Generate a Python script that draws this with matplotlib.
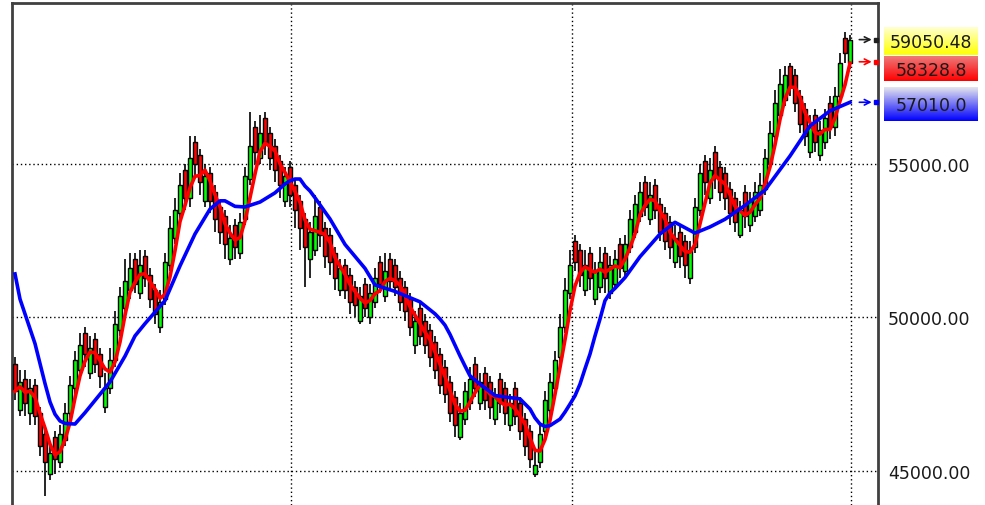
import numpy as np
import pandas as pd
import matplotlib
matplotlib.use('Agg')
import matplotlib.pyplot as plt
from matplotlib.colors import LinearSegmentedColormap

# daily candles
opens = [48500, 47000, 48000, 46900, 47800, 46900, 46200, 44900, 46100, 45300,
         46000, 46900, 47700, 48300, 49500, 48200, 49300, 48800, 47100, 47700,
         48600, 49600, 50300, 50900, 51900, 50800, 52000, 51400, 50900, 49700,
         50600, 51700, 52600, 53400, 54800, 53900, 55700, 55300, 53800, 54700,
         54100, 53600, 53300, 51900, 53000, 52100, 53200, 54500, 56200, 55200,
         56500, 56000, 55600, 55100, 53800, 54900, 54300, 53800, 53200, 51900,
         52200, 53600, 52900, 52700, 52100, 50900, 51700, 51400, 51000, 49900,
         51100, 50000, 50500, 51800, 50700, 51900, 51700, 51300, 51000, 50600,
         49100, 50300, 49900, 49600, 49200, 48800, 48400, 47900, 47400, 46100,
         46700, 47200, 48500, 47200, 48200, 47900, 46700, 48000, 47700, 46500,
         47700, 47200, 46700, 46300, 44900, 45300, 46300, 47000, 47700, 48700,
         49700, 50800, 52500, 52200, 50900, 52100, 50600, 51000, 52100, 50800,
         51100, 52400, 51500, 52300, 52800, 53300, 54400, 53200, 54300, 53700,
         53400, 53100, 51800, 52800, 52500, 51300, 52300, 53500, 55100, 53900,
         55400, 54900, 54700, 54200, 53900, 52700, 54100, 53000, 53300, 53500,
         54200, 55000, 55900, 56600, 57100, 58200, 57900, 57200, 56800, 55400,
         56600, 55300, 55700, 57000, 56200, 57200, 59100, 58300]
highs = [48700, 48300, 48300, 48000, 48000, 47100, 46400, 45900, 46300, 46500,
         47200, 48100, 48900, 49500, 49700, 49400, 49500, 49000, 48200, 49000,
         50200, 51000, 51900, 52100, 52100, 52200, 52200, 51600, 51100, 50900,
         52100, 53300, 53900, 54700, 55000, 55900, 55900, 55500, 55000, 54900,
         54300, 53800, 53500, 53000, 53200, 53400, 54900, 56700, 56400, 56600,
         56700, 56200, 55800, 55300, 54900, 55100, 54500, 54000, 53400, 53100,
         54000, 53800, 53100, 52900, 52300, 51900, 51900, 51600, 51200, 51000,
         51300, 51100, 51600, 52000, 52100, 52100, 51900, 51500, 51200, 50800,
         50200, 50500, 50100, 49800, 49400, 49000, 48600, 48100, 47600, 47200,
         47900, 48400, 48700, 48200, 48400, 48100, 47700, 48200, 47900, 47500,
         47900, 47400, 46900, 46500, 45700, 46500, 47600, 48200, 48900, 50100,
         51300, 52200, 52700, 52400, 52200, 52300, 51800, 52300, 52300, 52000,
         52200, 52600, 52700, 53500, 54000, 54400, 54600, 54400, 54500, 53900,
         53600, 53300, 53000, 53000, 52700, 52500, 53900, 55000, 55300, 55200,
         55600, 55100, 54900, 54400, 54100, 53800, 54300, 54100, 54400, 54700,
         55500, 56400, 57400, 58100, 58200, 58300, 58100, 57400, 57000, 56600,
         56800, 56400, 56800, 57200, 57500, 58600, 59300, 59200]
lows = [47300, 46800, 46800, 46500, 46500, 45500, 44200, 44700, 44900, 45100,
        45800, 46600, 47400, 48000, 48400, 48000, 48200, 47700, 46900, 47500,
        48400, 49400, 50100, 50600, 50800, 50600, 51000, 50300, 49800, 49500,
        50400, 51500, 52400, 53100, 53500, 53600, 54600, 54000, 53600, 53400,
        52800, 52400, 51900, 51700, 51900, 51900, 53000, 54300, 55000, 55000,
        55300, 54800, 54400, 53900, 53600, 53600, 52900, 52200, 51000, 51300,
        52000, 52300, 51600, 51400, 50900, 50700, 50600, 50100, 50000, 49800,
        50000, 49800, 50300, 50800, 50500, 50900, 50700, 50200, 49900, 49400,
        48800, 49100, 48800, 48400, 48000, 47500, 47200, 46600, 46100, 46000,
        46500, 47000, 47400, 47000, 47000, 46700, 46500, 46900, 46500, 46300,
        46500, 46000, 45500, 45100, 44800, 45100, 46100, 46800, 47500, 48500,
        49500, 50600, 51500, 51000, 50700, 50900, 50400, 50800, 50800, 50600,
        50900, 51300, 51300, 52100, 52600, 53100, 53300, 53000, 53200, 52500,
        52200, 51900, 51600, 51600, 51300, 51100, 52100, 53300, 54000, 53700,
        54200, 53800, 53500, 53000, 52800, 52600, 52900, 52800, 53100, 53300,
        54000, 54800, 55700, 56400, 56900, 57200, 56700, 56000, 55600, 55200,
        55400, 55100, 55500, 55800, 55900, 57000, 58300, 58100]
closes = [47600, 47900, 47200, 47700, 46800, 45800, 45300, 45600, 45400, 46200,
          46900, 47800, 48600, 49100, 48800, 49000, 48500, 48100, 47700, 48600,
          49800, 50700, 51200, 51600, 51100, 51700, 51300, 50600, 50100, 50500,
          51800, 52900, 53500, 54300, 53900, 55200, 55000, 54400, 54600, 53800,
          53200, 52800, 52400, 52600, 52300, 53100, 54600, 55600, 55400, 56000,
          55700, 55200, 54800, 54300, 54600, 54000, 53500, 52900, 52300, 52800,
          53300, 52700, 52000, 51800, 51300, 51600, 50900, 50500, 50400, 50700,
          50300, 50800, 51300, 51100, 51500, 51200, 51000, 50500, 50200, 49700,
          49900, 49400, 49100, 48700, 48300, 47800, 47500, 46900, 46500, 46900,
          47600, 48000, 47700, 47900, 47300, 47100, 47400, 47200, 46900, 47200,
          46800, 46300, 45800, 45400, 45200, 46200, 47300, 47900, 48600, 49700,
          50900, 51700, 51800, 51400, 51700, 51300, 51500, 51800, 51300, 51700,
          51900, 51600, 52400, 53200, 53700, 54100, 53600, 54000, 53500, 52800,
          52500, 52300, 52600, 52000, 51700, 52200, 53600, 54700, 54400, 54800,
          54600, 54100, 53900, 53400, 53100, 53500, 53300, 53800, 54100, 54300,
          55200, 56000, 57000, 57600, 57900, 57500, 57000, 56300, 55900, 56200,
          55700, 56100, 56500, 56200, 57200, 58300, 58600, 59050.48]

# long moving average (blue), read at some candle indices
blue_idx = [0, 1, 4, 5, 6, 7, 8, 9, 10, 12, 14, 16, 19, 22, 24, 26, 30, 33, 36, 39,
            41, 42, 44, 46, 49, 52, 54, 55, 56, 57, 58, 59, 60, 63, 66, 70, 72, 76, 81, 84,
            85, 86, 87, 88, 89, 90, 91, 93, 96, 98, 101, 103, 104, 105, 106, 107, 109, 110, 111, 112,
            113, 114, 115, 116, 117, 118, 119, 120, 122, 125, 129, 132, 136, 139, 142, 146, 150, 155, 159, 163,
            167]
blue_vals = [51420, 50600, 49150, 48500, 47850, 47250, 46850, 46630, 46550, 46530,
             46900, 47300, 47900, 48740, 49400, 49800, 50550, 51680, 52720, 53530,
             53800, 53800, 53620, 53600, 53760, 54060, 54350, 54450, 54510, 54510,
             54280, 54120, 53900, 53210, 52380, 51600, 51060, 50850, 50510, 50120,
             49950, 49750, 49450, 49100, 48750, 48420, 48100, 47830, 47460, 47410,
             47350, 47020, 46730, 46530, 46450, 46480, 46690, 46920, 47180, 47450,
             47830, 48330, 48810, 49400, 49950, 50550, 50800, 50950, 51300, 51980,
             52720, 53100, 52750, 52950, 53200, 53650, 54150, 55260, 56240, 56730,
             57010]

price_ticks = [45000, 50000, 55000]
grid_marks = [55.2, 111.4, 167.2]
last_labels = ['59050.48', '58328.8', '57010.0']
last_values = [59050.48, 58328.8, 57010.0]

W, H = 985, 506
fig = plt.figure(figsize=(W / 100, H / 100), dpi=100)
ax = fig.add_axes([12 / W, 0, 866 / W, 502 / H])

o = np.array(opens, float)
h = np.array(highs, float)
l = np.array(lows, float)
c = np.array(closes, float)
idx = np.arange(len(c))
col = np.where(c >= o, '#00FF00', '#FF0000')

ax.vlines(idx, l, h, color='black', lw=1.2, zorder=2)
ax.bar(idx, np.maximum(np.abs(c - o), 40), bottom=np.minimum(o, c), width=0.95,
       color=col, edgecolor='black', linewidth=1, zorder=3)

red_ma = pd.Series(c).rolling(4, min_periods=1).mean()
ax.plot(idx, red_ma, color='#FF0000', lw=2.6, zorder=4)
ax.plot(blue_idx, blue_vals, color='#0000FF', lw=2.6, zorder=5)

ax.set_xlim(-0.6, 172.6)
ax.set_ylim(43893, 60243)
ax.set_xticks(grid_marks)
ax.set_xticklabels([])
ax.set_yticks(price_ticks)
ax.set_yticklabels(['%.2f' % v for v in price_ticks])
ax.yaxis.tick_right()
ax.tick_params(length=0)
ax.tick_params(axis='y', pad=7, labelsize=12.5, labelcolor='#1a1a1a')
ax.grid(True, color='black', linestyle=(0, (1, 2)), lw=1)
ax.set_axisbelow(True)
for s in ['left', 'top', 'right']:
    ax.spines[s].set_color('#404040')
    ax.spines[s].set_linewidth(2)
ax.spines['bottom'].set_visible(False)

arrow_cols = ['#202020', '#FF0000', '#0000FF']
for v, ac in zip(last_values, arrow_cols):
    ax.annotate('', xy=(171.9, v), xytext=(168.3, v),
                arrowprops=dict(arrowstyle='->', color=ac, lw=1.2),
                annotation_clip=False, zorder=6)
    ax.plot([172.1], [v], marker='s', ms=3.5, color=ac, clip_on=False, zorder=6)

# value boxes at the right, drawn in pixel space
ov = fig.add_axes([0, 0, 1, 1])
ov.set_xlim(0, W)
ov.set_ylim(H, 0)
ov.axis('off')
ov.patch.set_alpha(0)
boxes = [(28, 56, '#FFFFD0', '#FFFF00'),
         (57, 82, '#EE7A7A', '#FF0000'),
         (88, 122, '#E4E4EE', '#0000FF')]
grad = np.linspace(0, 1, 64).reshape(-1, 1)
for (y0, y1, ctop, cbot), txt in zip(boxes, last_labels):
    cm = LinearSegmentedColormap.from_list('g', [ctop, cbot])
    ov.imshow(grad, cmap=cm, aspect='auto', extent=(884, 978, y1, y0),
              origin='upper', zorder=1)
    ov.text(931, (y0 + y1) / 2 + 1, txt, ha='center', va='center',
            fontsize=12.5, color='#1a1a1a', zorder=2)
ov.set_xlim(0, W)
ov.set_ylim(H, 0)

fig.savefig('out.png', dpi=100)
